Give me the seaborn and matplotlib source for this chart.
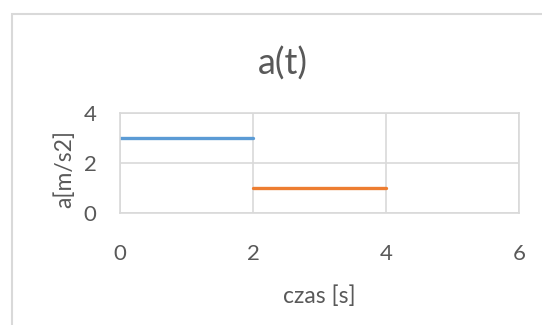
import pandas as pd
import matplotlib.pyplot as plt
import seaborn as sns
from matplotlib.patches import Rectangle

# data
t_series1 = [0, 2]
a_series1 = [3, 3]
t_series2 = [2, 4]
a_series2 = [1, 1]
x_ticks = [0, 2, 4, 6]
y_ticks = [0, 2, 4]

sns.set_style('white')
plt.rcParams['font.family'] = ['Lato', 'DejaVu Sans']

df = pd.concat([
    pd.DataFrame({'t': t_series1, 'a': a_series1, 'seria': 'Seria1'}),
    pd.DataFrame({'t': t_series2, 'a': a_series2, 'seria': 'Seria2'}),
])

text_c = '#595959'
grid_c = '#D9D9D9'

fig = plt.figure(figsize=(5.42, 3.25), dpi=100)
fig.patch.set_facecolor('white')
# chart-area frame (Excel style, cropped on right/bottom)
fig.patches.append(Rectangle((12 / 542, -0.1), 1.2, 1 - 14 / 325 + 0.1,
                             transform=fig.transFigure, fill=False,
                             edgecolor=grid_c, linewidth=1.5))

ax = fig.add_axes([120 / 542, 1 - 213 / 325, 399 / 542, 100 / 325])
sns.lineplot(data=df, x='t', y='a', hue='seria',
             palette=['#5B9BD5', '#ED7D31'], linewidth=2.4,
             legend=False, ax=ax)

ax.set_xlim(0, 6)
ax.set_ylim(0, 4)
ax.set_xticks(x_ticks)
ax.set_yticks(y_ticks)
ax.grid(True, color=grid_c, linewidth=1.2)
ax.set_axisbelow(True)
for s in ax.spines.values():
    s.set_color(grid_c)
    s.set_linewidth(1.2)
ax.tick_params(axis='both', length=0, labelsize=16, labelcolor=text_c)
ax.tick_params(axis='x', pad=22)
ax.tick_params(axis='y', pad=17)

ax.set_xlabel('czas [s]', fontsize=16.5, color=text_c)
ax.set_ylabel('a[m/s2]', fontsize=16.5, color=text_c)
ax.xaxis.label.set_va('center')
ax.yaxis.label.set_va('center')
ax.xaxis.set_label_coords(0.5, (213 - 296) / 100)
ax.yaxis.set_label_coords((64 - 120) / 399, 0.44)

fig.text(283 / 542, 1 - 64 / 325, 'a(t)', ha='center', va='center',
         fontsize=26, color=text_c)

plt.savefig('out.png', dpi=100)
plt.close()
